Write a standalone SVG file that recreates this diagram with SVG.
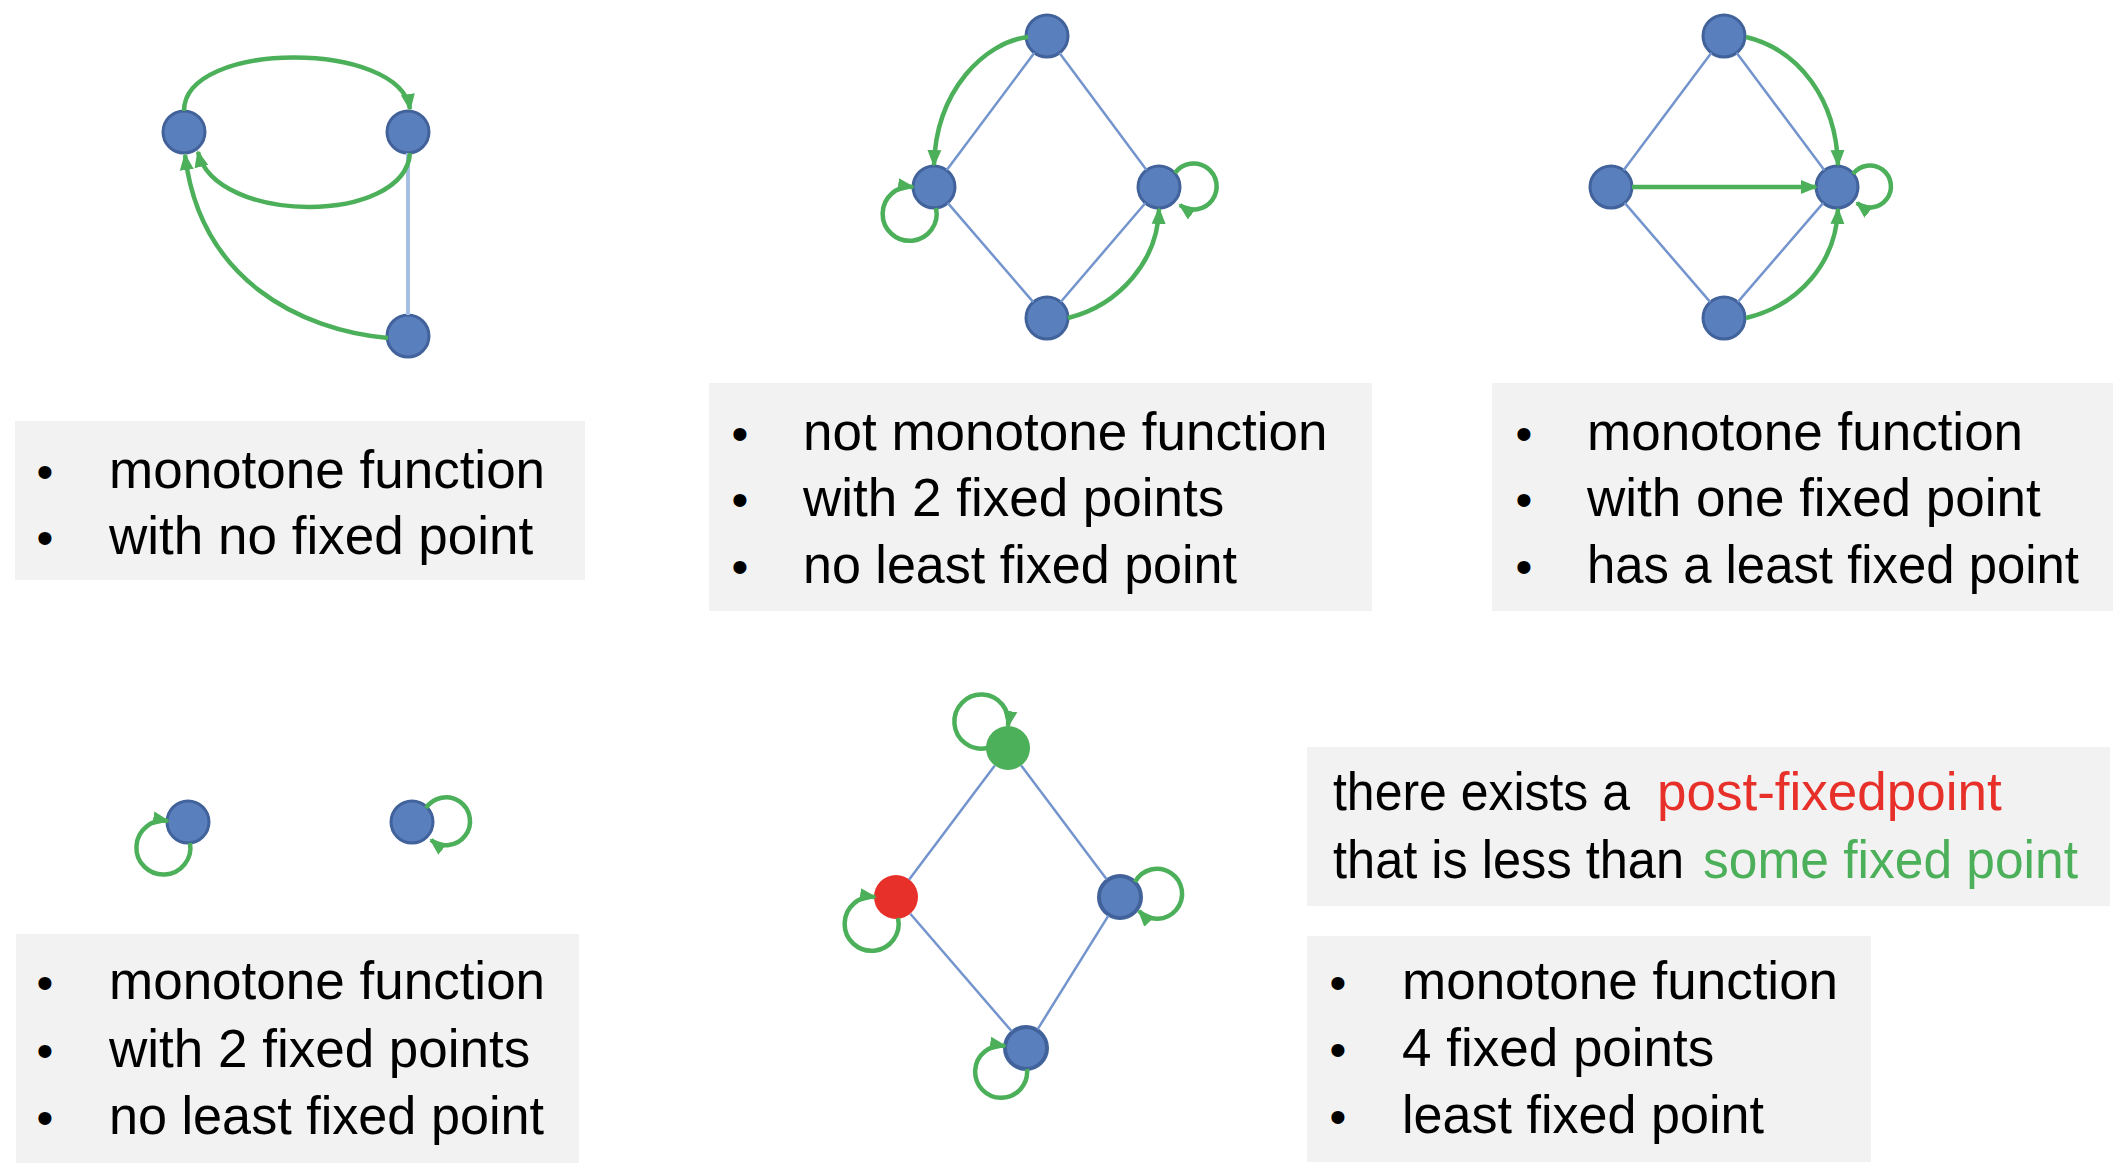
<svg xmlns="http://www.w3.org/2000/svg" width="2126" height="1172" viewBox="0 0 2126 1172">
<style>
.bg{fill:#F2F2F2}
.t{font-family:"Liberation Sans",Arial,sans-serif;font-size:53px;fill:#000}
.b{font-family:"Liberation Sans",Arial,sans-serif;font-size:48px;fill:#000;text-anchor:middle}
.n{fill:#5A7FBD;stroke:#41629A;stroke-width:3}
.ln{stroke:#7394CD;stroke-width:2.5;fill:none}
.ln1{stroke:#A6BEE2;stroke-width:4;fill:none}
.g{stroke:#4CAF5A;stroke-width:4.5;fill:none;marker-end:url(#ah)}
.red{fill:#E8302A}
.grn{fill:#4CAF5A}
</style>
<defs>
<marker id="ah" markerUnits="userSpaceOnUse" markerWidth="18" markerHeight="16" refX="15" refY="8" orient="auto">
<path d="M0,1 L17,8 L0,15 z" fill="#4CAF5A"/>
</marker>
</defs>
<rect width="2126" height="1172" fill="#FFFFFF"/>

<!-- text boxes -->
<g id="box1">
<rect class="bg" x="15" y="421" width="570" height="159"/>
<text class="b" x="45" y="488">•</text><text class="t" x="109" y="488">monotone function</text>
<text class="b" x="45" y="554">•</text><text class="t" x="109" y="554">with no fixed point</text>
</g>
<g id="box2">
<rect class="bg" x="709" y="383" width="663" height="228"/>
<text class="b" x="740" y="450">•</text><text class="t" x="803" y="450">not monotone function</text>
<text class="b" x="740" y="516">•</text><text class="t" x="803" y="516">with 2 fixed points</text>
<text class="b" x="740" y="583">•</text><text class="t" x="803" y="583" textLength="434" lengthAdjust="spacingAndGlyphs">no least fixed point</text>
</g>
<g id="box3">
<rect class="bg" x="1492" y="383" width="621" height="228"/>
<text class="b" x="1524" y="450">•</text><text class="t" x="1587" y="450">monotone function</text>
<text class="b" x="1524" y="516">•</text><text class="t" x="1587" y="516">with one fixed point</text>
<text class="b" x="1524" y="583">•</text><text class="t" x="1587" y="583" textLength="492" lengthAdjust="spacingAndGlyphs">has a least fixed point</text>
</g>
<g id="box4">
<rect class="bg" x="16" y="934" width="563" height="229"/>
<text class="b" x="45" y="999">•</text><text class="t" x="109" y="999">monotone function</text>
<text class="b" x="45" y="1067">•</text><text class="t" x="109" y="1067">with 2 fixed points</text>
<text class="b" x="45" y="1134">•</text><text class="t" x="109" y="1134" textLength="435" lengthAdjust="spacingAndGlyphs">no least fixed point</text>
</g>
<g id="box6">
<rect class="bg" x="1307" y="747" width="803" height="159"/>
<text class="t" x="1333" y="810" textLength="297" lengthAdjust="spacingAndGlyphs">there exists a</text>
<text class="t" x="1657" y="810" fill="#E8302A" style="fill:#E8302A">post-fixedpoint</text>
<text class="t" x="1333" y="878" textLength="351" lengthAdjust="spacingAndGlyphs">that is less than</text>
<text class="t" x="1703" y="878" style="fill:#4CAF5A" textLength="375" lengthAdjust="spacingAndGlyphs">some fixed point</text>
</g>
<g id="box7">
<rect class="bg" x="1307" y="936" width="564" height="226"/>
<text class="b" x="1338" y="999">•</text><text class="t" x="1402" y="999">monotone function</text>
<text class="b" x="1338" y="1066">•</text><text class="t" x="1402" y="1066">4 fixed points</text>
<text class="b" x="1338" y="1133">•</text><text class="t" x="1402" y="1133" textLength="362" lengthAdjust="spacingAndGlyphs">least fixed point</text>
</g>

<!-- nodes -->
<g id="p1a"><circle class="n" cx="184" cy="132" r="21"/></g>
<g id="p1b"><circle class="n" cx="408" cy="132" r="21"/></g>
<g id="p1c"><circle class="n" cx="408" cy="336" r="21"/></g>

<g id="p2t"><circle class="n" cx="1047" cy="36" r="21"/></g>
<g id="p2l"><circle class="n" cx="934" cy="187" r="21"/></g>
<g id="p2r"><circle class="n" cx="1159" cy="187" r="21"/></g>
<g id="p2b"><circle class="n" cx="1047" cy="318" r="21"/></g>

<g id="p3t"><circle class="n" cx="1724" cy="36" r="21"/></g>
<g id="p3l"><circle class="n" cx="1611" cy="187" r="21"/></g>
<g id="p3r"><circle class="n" cx="1837" cy="187" r="21"/></g>
<g id="p3b"><circle class="n" cx="1724" cy="318" r="21"/></g>

<g id="p4l"><circle class="n" cx="188" cy="822" r="21"/></g>
<g id="p4r"><circle class="n" cx="412" cy="822" r="21"/></g>

<g id="p5t"><circle class="grn" cx="1008" cy="748" r="22"/></g>
<g id="p5l"><circle class="red" cx="896" cy="897" r="22"/></g>
<g id="p5r"><circle class="n" cx="1120" cy="897" r="21" style="stroke-width:4"/></g>
<g id="p5b"><circle class="n" cx="1026" cy="1048" r="21" style="stroke-width:4"/></g>

<!-- connectors -->
<g id="connectors">
<!-- panel 1 -->
<line class="ln1" x1="408" y1="153" x2="408" y2="315"/>
<path class="g" d="M184,111 C184,40 400,40 410,109"/>
<path class="g" d="M410,153 C405,225 215,225 198,152"/>
<path class="g" d="M388,338 C300,330 200,280 185,155"/>
<!-- panel 2 -->
<line class="ln" x1="1034.4" y1="52.8" x2="946.6" y2="170.2"/>
<line class="ln" x1="1059.5" y1="52.9" x2="1146.5" y2="170.1"/>
<line class="ln" x1="947.7" y1="202.9" x2="1033.3" y2="302.1"/>
<line class="ln" x1="1145.4" y1="203" x2="1060.7" y2="302"/>
<path class="g" d="M1028,37 C985,42 936,90 934,165"/>
<path class="g" d="M1068,318 C1120,305 1158,260 1159,209"/>
<path class="g" d="M936,208 A27,27 0 1 1 913,187"/>
<path class="g" d="M1175,173 A23,23 0 1 1 1180,205"/>
<!-- panel 3 -->
<line class="ln" x1="1711.4" y1="52.8" x2="1623.6" y2="170.2"/>
<line class="ln" x1="1736.6" y1="52.8" x2="1824.4" y2="170.2"/>
<line class="ln" x1="1624.7" y1="202.9" x2="1710.3" y2="302.1"/>
<line class="ln" x1="1823.3" y1="202.9" x2="1737.7" y2="302.1"/>
<path class="g" d="M1632,187 L1816,187"/>
<path class="g" d="M1746,37 C1800,50 1836,100 1838,165"/>
<path class="g" d="M1746,318 C1800,305 1836,262 1838,209"/>
<path class="g" d="M1853,174 A21,21 0 1 1 1857,203"/>
<!-- panel 4 -->
<path class="g" d="M190,843 A27,27 0 1 1 168,821"/>
<path class="g" d="M426,808 A24,24 0 1 1 431,840"/>
<!-- panel 5 -->
<line class="ln" x1="994.8" y1="765.6" x2="909.2" y2="879.4"/>
<line class="ln" x1="1021.2" y1="765.6" x2="1106.8" y2="879.4"/>
<line class="ln" x1="910.3" y1="913.7" x2="1011.7" y2="1031.3"/>
<line class="ln" x1="1108.4" y1="915.7" x2="1037.6" y2="1029.3"/>
<path class="g" d="M987,748 A27,27 0 1 1 1008,726"/>
<path class="g" d="M898,918 A27,27 0 1 1 875,897"/>
<path class="g" d="M1135,882 A25,25 0 1 1 1139,911"/>
<path class="g" d="M1027,1069 A26,26 0 1 1 1005,1046"/>
</g>
</svg>
